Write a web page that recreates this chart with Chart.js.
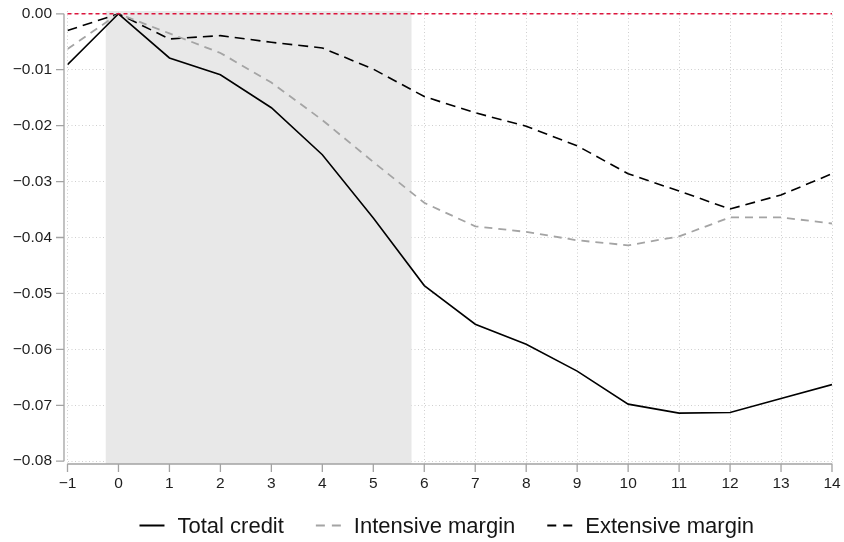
<!DOCTYPE html>
<html>
<head>
<meta charset="utf-8">
<script src="https://cdn.jsdelivr.net/npm/chart.js@4"></script>
<style>
	body { margin: 0; background: #fff; }
	#wrap { width: 844px; height: 542px; }
</style>
</head>
<body>
<div id="wrap"><canvas id="irfChart" width="844" height="542"></canvas></div>
<script>
// horizon (quarters after the shock)
var horizons = [-1, 0, 1, 2, 3, 4, 5, 6, 7, 8, 9, 10, 11, 12, 13, 14];

var totalCredit = [-0.0091, 0, -0.0079, -0.0109, -0.0168, -0.0252, -0.0365, -0.0486,
	-0.0555, -0.0591, -0.0639, -0.0698, -0.0714, -0.0713, -0.0688, -0.0663];
var intensiveMargin = [-0.0063, 0, -0.0035, -0.0070, -0.0123, -0.0190, -0.0265, -0.0338,
	-0.0380, -0.0390, -0.0405, -0.0414, -0.0398, -0.0364, -0.0364, -0.0375];
var extensiveMargin = [-0.0030, 0, -0.0045, -0.0039, -0.0051, -0.0061, -0.0099, -0.0148,
	-0.0177, -0.0201, -0.0236, -0.0286, -0.0317, -0.0349, -0.0324, -0.0286];

var seriesLabels = ['Total credit', 'Intensive margin', 'Extensive margin'];

var xTicks = [-1, 0, 1, 2, 3, 4, 5, 6, 7, 8, 9, 10, 11, 12, 13, 14];
var yTicks = [0, -0.01, -0.02, -0.03, -0.04, -0.05, -0.06, -0.07, -0.08];

// shaded period and reference line
var shadeFrom = -0.25;
var shadeTo = 5.75;
var refLine = 0;

var FONT = '"Liberation Sans", Arial, Helvetica, sans-serif';

function pts(ys) {
	var out = [];
	for (var i = 0; i < horizons.length; i++) {
		out.push({ x: horizons[i], y: ys[i] });
	}
	return out;
}

function minus(s) {
	return s.replace('-', '\u2212');
}

var axisColor = '#a3a3a3';

var decorPlugin = {
	id: 'decor',
	beforeDatasetsDraw: function(chart) {
		var ctx = chart.ctx;
		var a = chart.chartArea;
		var xs = chart.scales.x;
		var ys = chart.scales.y;
		ctx.save();
		// shaded window
		var x0 = xs.getPixelForValue(shadeFrom);
		var x1 = xs.getPixelForValue(shadeTo);
		ctx.fillStyle = '#e8e8e8';
		ctx.fillRect(x0, a.top, x1 - x0, a.bottom - a.top);

		// axes, drawn Stata-style (offset y axis, ticks outward)
		ctx.strokeStyle = axisColor;
		ctx.lineWidth = 1.3;
		var axX = a.left - 3.5;
		var yTop = ys.getPixelForValue(yTicks[0]);
		var yBot = ys.getPixelForValue(yTicks[yTicks.length - 1]);
		ctx.beginPath();
		ctx.moveTo(axX, yTop);
		ctx.lineTo(axX, yBot);
		yTicks.forEach(function(v) {
			var py = ys.getPixelForValue(v);
			ctx.moveTo(axX - 8, py);
			ctx.lineTo(axX, py);
		});
		var axY = a.bottom;
		ctx.moveTo(xs.getPixelForValue(xTicks[0]), axY);
		ctx.lineTo(xs.getPixelForValue(xTicks[xTicks.length - 1]), axY);
		xTicks.forEach(function(v) {
			var px = xs.getPixelForValue(v);
			ctx.moveTo(px, axY);
			ctx.lineTo(px, axY + 8);
		});
		ctx.stroke();
		ctx.restore();
	},
	afterDatasetsDraw: function(chart) {
		var ctx = chart.ctx;
		var a = chart.chartArea;
		var py = chart.scales.y.getPixelForValue(refLine);
		ctx.save();
		ctx.strokeStyle = 'rgb(220, 20, 60)';
		ctx.lineWidth = 1.4;
		ctx.setLineDash([4, 3]);
		ctx.beginPath();
		ctx.moveTo(a.left, py);
		ctx.lineTo(a.right, py);
		ctx.stroke();
		ctx.restore();
	},
	afterDraw: function(chart) {
		// legend below the plot, roughly centred on the plot area
		var ctx = chart.ctx;
		var a = chart.chartArea;
		var sets = chart.data.datasets;
		var symW = 25, gap = 13, sep = 32;
		ctx.save();
		ctx.font = '22px ' + FONT;
		var widths = sets.map(function(d) { return symW + gap + ctx.measureText(d.label).width; });
		var total = widths.reduce(function(s, w) { return s + w; }, 0) + sep * (sets.length - 1);
		var x = (a.left + a.right) / 2 - 3 - total / 2;
		var y = 525.5;
		ctx.textBaseline = 'middle';
		ctx.fillStyle = '#151515';
		sets.forEach(function(d, i) {
			ctx.strokeStyle = d.borderColor;
			ctx.lineWidth = 2;
			ctx.setLineDash(d.legendDash || []);
			ctx.beginPath();
			ctx.moveTo(x, y);
			ctx.lineTo(x + symW, y);
			ctx.stroke();
			ctx.setLineDash([]);
			ctx.fillText(d.label, x + symW + gap, y + 1);
			x += widths[i] + sep;
		});
		ctx.restore();
	}
};

var ctx = document.getElementById('irfChart').getContext('2d');
var irfChart = new Chart(ctx, {
	type: 'line',
	data: {
		datasets: [
			{
				label: seriesLabels[0],
				data: pts(totalCredit),
				borderColor: '#000000',
				borderWidth: 1.6,
				pointRadius: 0,
				fill: false,
				tension: 0
			},
			{
				label: seriesLabels[1],
				data: pts(intensiveMargin),
				borderColor: '#a4a4a4',
				borderWidth: 1.8,
				borderDash: [8, 6],
				legendDash: [9, 7],
				pointRadius: 0,
				fill: false,
				tension: 0
			},
			{
				label: seriesLabels[2],
				data: pts(extensiveMargin),
				borderColor: '#000000',
				borderWidth: 1.6,
				borderDash: [10, 6],
				legendDash: [9, 7],
				pointRadius: 0,
				fill: false,
				tension: 0
			}
		]
	},
	options: {
		responsive: false,
		animation: false,
		devicePixelRatio: 1,
		layout: { padding: { left: 0, right: 12, top: 11, bottom: 0 } },
		scales: {
			x: {
				type: 'linear',
				min: -1,
				max: 14,
				afterBuildTicks: function(s) {
					s.ticks = xTicks.map(function(v) { return { value: v }; });
				},
				afterFit: function(s) {
					s.height = 78;
					s.paddingLeft = 0;
					s.paddingRight = 0;
				},
				ticks: {
					font: { family: FONT, size: 15.5 },
					color: '#1e1e1e',
					padding: 10,
					maxRotation: 0,
					autoSkip: false,
					callback: function(v) { return minus(String(v)); }
				},
				grid: {
					drawTicks: false,
					color: '#cfcfcf',
					lineWidth: 1,
					borderDash: [1, 2.5]
				},
				border: { display: false, dash: [1, 2.5] }
			},
			y: {
				min: -0.0805,
				max: 0.0005,
				afterBuildTicks: function(s) {
					s.ticks = yTicks.map(function(v) { return { value: v }; });
				},
				afterFit: function(s) {
					s.width = 67.5;
					s.paddingTop = 0;
					s.paddingBottom = 0;
				},
				ticks: {
					font: { family: FONT, size: 15.5 },
					color: '#1e1e1e',
					padding: 15.5,
					autoSkip: false,
					callback: function(v) { return v === 0 ? '0.00' : minus(v.toFixed(2)); }
				},
				grid: {
					drawTicks: false,
					color: '#cfcfcf',
					lineWidth: 1,
					borderDash: [1, 2.5]
				},
				border: { display: false, dash: [1, 2.5] }
			}
		},
		plugins: {
			legend: { display: false },
			tooltip: { enabled: false }
		}
	},
	plugins: [decorPlugin]
});
</script>
</body>
</html>
